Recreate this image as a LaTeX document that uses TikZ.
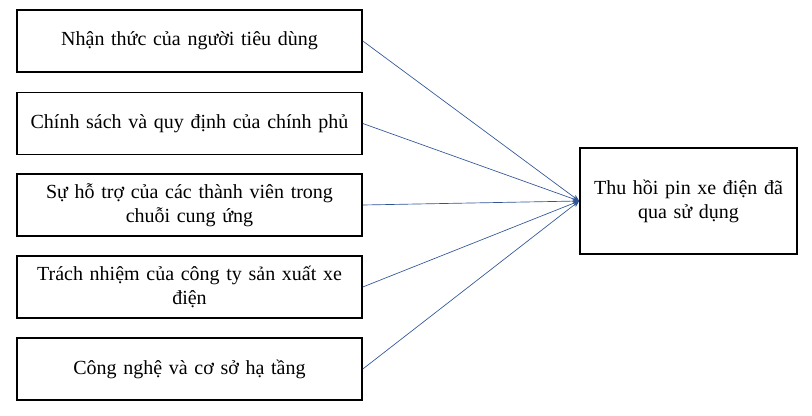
\documentclass[tikz,border=0pt]{standalone}
\usepackage{fontspec}
\setmainfont{Liberation Serif}
\usetikzlibrary{arrows.meta}
\tikzset{every picture/.style={line width=0.75pt}}
\tikzset{factor/.style={draw, line width=1.2pt, minimum width=258.75pt, minimum height=46.5pt, align=center, text width=240pt, inner sep=0pt, font=\fontsize{15}{18}\selectfont},
  link/.style={draw={rgb,255:red,47;green,85;blue,151}, line width=0.5pt, -{Stealth[length=5pt,width=4pt]}}}

\begin{document}
\begin{tikzpicture}[x=0.75pt,y=0.75pt,yscale=-1,xscale=1]
			\useasboundingbox (0,0) rectangle (812,416);
			% Factor boxes
			\node [factor] (f1) at (189.5,41) {Nhận thức của người tiêu dùng};
			\node [factor] (f2) at (189.5,123.5) {Chính sách và quy định của chính phủ};
			\node [factor] (f3) at (189.5,205) {Sự hỗ trợ của các thành viên trong\\chuỗi cung ứng};
			\node [factor] (f4) at (189.5,287) {Trách nhiệm của công ty sản xuất xe\\điện};
			\node [factor] (f5) at (189.5,369) {Công nghệ và cơ sở hạ tầng};
			% Outcome box
			\node [factor, minimum width=162.75pt, minimum height=79.5pt, text width=150pt] (out) at (688.5,201) {Thu hồi pin xe điện đã\\qua sử dụng};

			% Links
			\foreach \f in {f1,f2,f3,f4,f5}
				\draw [link] (\f.east) -- (out.west);

		\end{tikzpicture}
\end{document}
